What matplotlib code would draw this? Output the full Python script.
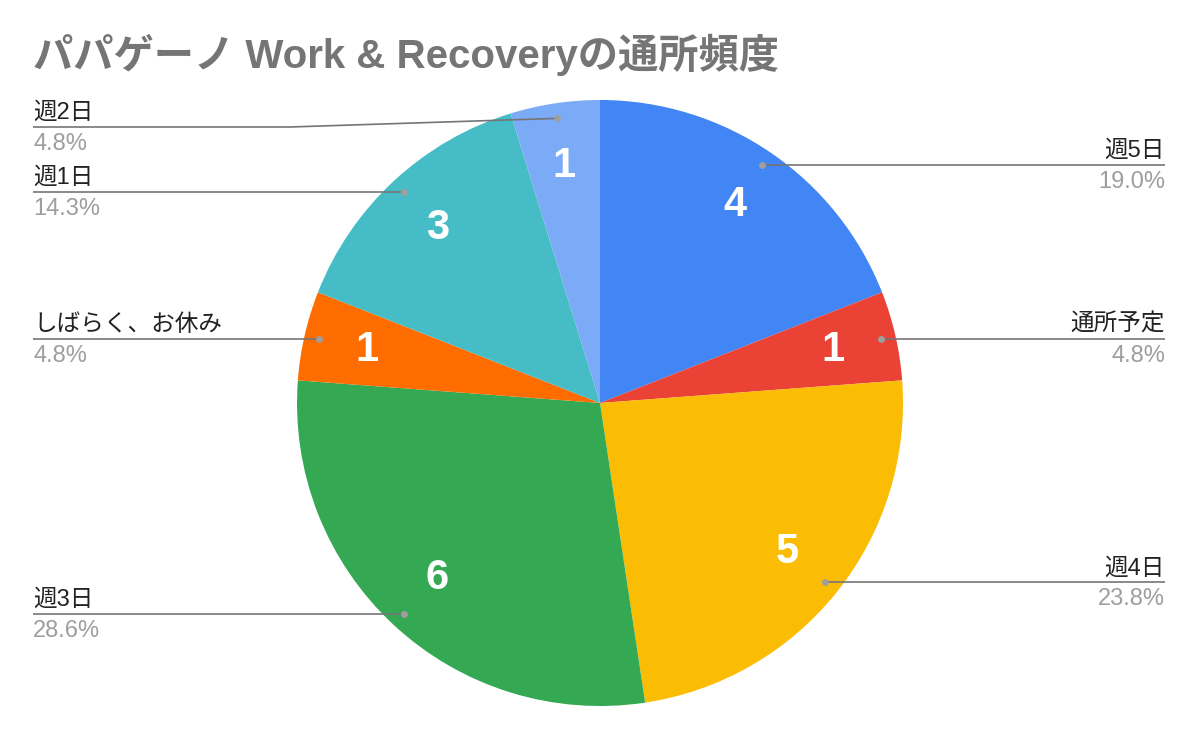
import math
import matplotlib
matplotlib.use("Agg")
import matplotlib.pyplot as plt

# data (clockwise from 12 o'clock)
labels = ["週5日", "通所予定", "週4日", "週3日", "しばらく、お休み", "週1日", "週2日"]
counts = [4, 1, 5, 6, 1, 3, 1]
colors = ["#4285F4", "#EA4335", "#FBBC04", "#34A853", "#FF6D01", "#46BDC6", "#7BAAF7"]
title = "パパゲーノ Work & Recoveryの通所頻度"

W, H = 1200, 738
cx, cy, r = 600, H - 403, 303
fam = ["Liberation Sans", "Noto Sans CJK JP"]

fig = plt.figure(figsize=(W / 100, H / 100), dpi=100)
ax = fig.add_axes([0, 0, 1, 1])

wedges, _ = ax.pie(counts, colors=colors, startangle=90, counterclock=False,
                   center=(cx, cy), radius=r, frame=True,
                   wedgeprops=dict(linewidth=0))
ax.set_xlim(0, W)
ax.set_ylim(0, H)
ax.set_aspect("equal")
ax.axis("off")

fig.text(33 / W, (H - 68) / H, title, family=fam, fontsize=29, fontweight="bold",
         color="#757575", ha="left", va="baseline")

total = sum(counts)
top_line = H - 127  # labels can't go above this (title area)
for w, lab, n in zip(wedges, labels, counts):
    a = math.radians((w.theta1 + w.theta2) / 2)
    # value inside the slice
    ax.text(cx + 0.79 * r * math.cos(a), cy + 0.79 * r * math.sin(a), str(n),
            family="Liberation Sans", fontsize=30, fontweight="bold", color="white",
            ha="center", va="center")
    # leader line
    dx, dy = cx + 0.95 * r * math.cos(a), cy + 0.95 * r * math.sin(a)
    ly = min(dy, top_line)
    right = math.cos(a) > 0
    if right:
        xs = [dx, dx + 10, 1165]
        tx, ha = 1165, "right"
    else:
        bend = 290 if dy != ly else dx - 10
        xs = [dx, bend, 33]
        tx, ha = 33, "left"
    ax.plot(xs, [dy, ly, ly], color="#757575", lw=1.2, solid_capstyle="butt")
    ax.plot([dx], [dy], "o", ms=5, color="#9E9E9E", mec="none")
    ax.text(tx, ly + 3, lab, family=fam, fontsize=17, color="#222222",
            ha=ha, va="bottom")
    ax.text(tx, ly - 6, "%.1f%%" % (100 * n / total), family=fam, fontsize=17,
            color="#9E9E9E", ha=ha, va="top")

fig.savefig("out.png", dpi=100, facecolor="white")
